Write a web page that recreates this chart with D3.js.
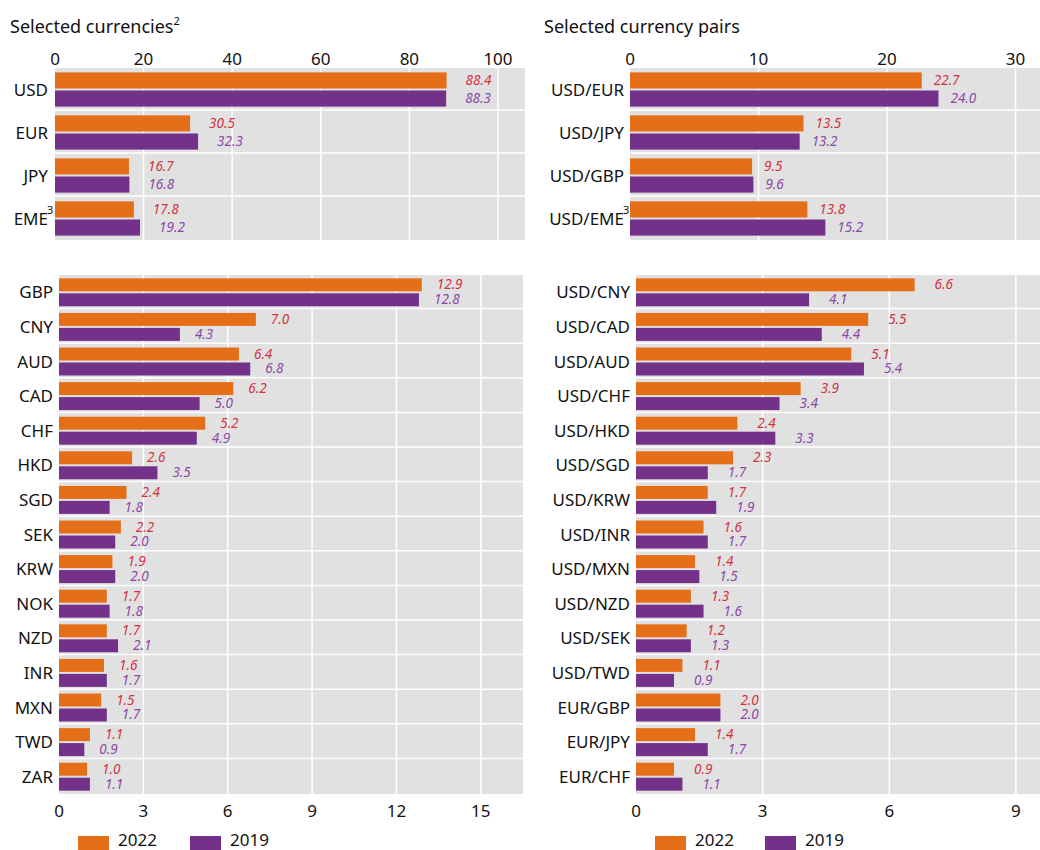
<!DOCTYPE html>
<html lang="en">
<head>
  <meta charset="UTF-8">
  <title>FX turnover by currency</title>
  <style>
    body { margin: 0; background: #fff; }
    svg { font-family: "Noto Sans", "Open Sans", sans-serif; }
    .tick-label { font-size: 17px; fill: #111; }
    .cat-label { font-size: 17px; fill: #111; }
    .val-label { font-size: 13.5px; font-style: italic; }
  </style>
</head>
<body>
  <div class="canvas"></div>
  <script src="https://d3js.org/d3.v7.min.js"></script>
  <script>
    // ---- data ----
    const currencies = ['USD', 'EUR', 'JPY', 'EME'];
    const currencies2022 = [88.4, 30.5, 16.7, 17.8];
    const currencies2019 = [88.3, 32.3, 16.8, 19.2];
    const currencyTicks = [0, 20, 40, 60, 80, 100];

    const pairs = ['USD/EUR', 'USD/JPY', 'USD/GBP', 'USD/EME'];
    const pairs2022 = [22.7, 13.5, 9.5, 13.8];
    const pairs2019 = [24.0, 13.2, 9.6, 15.2];
    const pairTicks = [0, 10, 20, 30];

    const otherCurrencies = ['GBP', 'CNY', 'AUD', 'CAD', 'CHF', 'HKD', 'SGD', 'SEK',
      'KRW', 'NOK', 'NZD', 'INR', 'MXN', 'TWD', 'ZAR'];
    const other2022 = [12.9, 7.0, 6.4, 6.2, 5.2, 2.6, 2.4, 2.2, 1.9, 1.7, 1.7, 1.6, 1.5, 1.1, 1.0];
    const other2019 = [12.8, 4.3, 6.8, 5.0, 4.9, 3.5, 1.8, 2.0, 2.0, 1.8, 2.1, 1.7, 1.7, 0.9, 1.1];
    const otherTicks = [0, 3, 6, 9, 12, 15];

    const otherPairs = ['USD/CNY', 'USD/CAD', 'USD/AUD', 'USD/CHF', 'USD/HKD', 'USD/SGD',
      'USD/KRW', 'USD/INR', 'USD/MXN', 'USD/NZD', 'USD/SEK', 'USD/TWD', 'EUR/GBP', 'EUR/JPY', 'EUR/CHF'];
    const otherPairs2022 = [6.6, 5.5, 5.1, 3.9, 2.4, 2.3, 1.7, 1.6, 1.4, 1.3, 1.2, 1.1, 2.0, 1.4, 0.9];
    const otherPairs2019 = [4.1, 4.4, 5.4, 3.4, 3.3, 1.7, 1.9, 1.7, 1.5, 1.6, 1.3, 0.9, 2.0, 1.7, 1.1];
    const otherPairTicks = [0, 3, 6, 9];

    const years = ['2022', '2019'];
    const footnotes = { 'EME': '3', 'USD/EME': '3' };

    const colors = { '2022': '#e46f18', '2019': '#733189' };
    const labelColors = { '2022': '#d2323f', '2019': '#8b47a6' };

    const width = 1040;
    const height = 850;

    const svg = d3.select('.canvas')
      .append('svg')
      .attr('width', width)
      .attr('height', height);

    function drawPanel(p) {
      const x = d3.scaleLinear().domain([0, p.max]).range([p.left, p.right]);
      const y = d3.scaleBand().domain(p.cats).range([p.top, p.bottom]);
      const bh = y.bandwidth() * 0.375;
      const gap = 2;
      const g = svg.append('g');

      g.append('rect')
        .attr('x', p.left).attr('y', p.top)
        .attr('width', p.right - p.left).attr('height', p.bottom - p.top)
        .attr('fill', '#e1e1e1');

      // vertical grid
      g.selectAll('line.vgrid')
        .data(p.ticks.filter(t => t > 0))
        .enter().append('line')
        .attr('x1', d => x(d)).attr('x2', d => x(d))
        .attr('y1', p.top).attr('y2', p.bottom)
        .attr('stroke', '#fff').attr('stroke-width', 1.5);

      // row separators
      g.selectAll('line.hgrid')
        .data(p.cats.slice(1))
        .enter().append('line')
        .attr('x1', p.left).attr('x2', p.right)
        .attr('y1', d => y(d) - 1).attr('y2', d => y(d) - 1)
        .attr('stroke', '#fff').attr('stroke-width', 1.5);

      const rows = p.cats.map((c, i) => ({ cat: c, v2022: p.v2022[i], v2019: p.v2019[i] }));
      const barY = (d, k) => y(d.cat) + (y.bandwidth() - 2 * bh - gap) / 2 + k * (bh + gap);

      years.forEach((yr, k) => {
        g.selectAll('rect.bar' + yr)
          .data(rows)
          .enter().append('rect')
          .attr('x', x(0))
          .attr('y', d => barY(d, k))
          .attr('width', d => x(d['v' + yr]) - x(0))
          .attr('height', bh)
          .attr('fill', colors[yr]);

        g.selectAll('text.val' + yr)
          .data(rows)
          .enter().append('text')
          .attr('class', 'val-label')
          .attr('x', d => x(d['v' + yr]) + p.valOffset)
          .attr('y', d => barY(d, k) + bh / 2 + 4.5)
          .attr('fill', labelColors[yr])
          .text(d => d['v' + yr].toFixed(1));
      });

      // category labels
      g.selectAll('text.cat')
        .data(p.cats)
        .enter().append('text')
        .attr('class', 'cat-label')
        .attr('x', p.left - p.catGap)
        .attr('y', d => y(d) + y.bandwidth() / 2 + 6)
        .attr('text-anchor', 'end')
        .text(d => d);

      g.selectAll('text.note')
        .data(p.cats.filter(c => footnotes[c]))
        .enter().append('text')
        .attr('x', p.left - p.catGap - 1)
        .attr('y', d => y(d) + y.bandwidth() / 2 - 5)
        .attr('font-size', 11)
        .attr('fill', '#111')
        .text(d => footnotes[d]);

      // tick labels
      g.selectAll('text.tick')
        .data(p.ticks)
        .enter().append('text')
        .attr('class', 'tick-label')
        .attr('x', d => x(d))
        .attr('y', p.tickY)
        .attr('text-anchor', 'middle')
        .text(d => d);
    }

    // titles
    const t1 = svg.append('text').attr('x', 10).attr('y', 33)
      .attr('font-size', 18).attr('fill', '#111').text('Selected currencies');
    t1.append('tspan').attr('font-size', 11).attr('dy', -8).text('2');
    svg.append('text').attr('x', 544).attr('y', 33)
      .attr('font-size', 18).attr('fill', '#111').text('Selected currency pairs');

    drawPanel({ cats: currencies, v2022: currencies2022, v2019: currencies2019, ticks: currencyTicks,
      max: 106.1, left: 55, right: 525, top: 68, bottom: 240, tickY: 65, valOffset: 19, catGap: 7 });
    drawPanel({ cats: pairs, v2022: pairs2022, v2019: pairs2019, ticks: pairTicks,
      max: 31.9, left: 630, right: 1040, top: 68, bottom: 240, tickY: 65, valOffset: 12, catGap: 6 });
    drawPanel({ cats: otherCurrencies, v2022: other2022, v2019: other2019, ticks: otherTicks,
      max: 16.5, left: 59, right: 523, top: 275, bottom: 794, tickY: 817, valOffset: 15, catGap: 6 });
    drawPanel({ cats: otherPairs, v2022: otherPairs2022, v2019: otherPairs2019, ticks: otherPairTicks,
      max: 9.57, left: 636, right: 1040, top: 275, bottom: 794, tickY: 817, valOffset: 20, catGap: 6 });

    // legends
    function drawLegend(x0, items) {
      const lg = svg.append('g');
      items.forEach(it => {
        lg.append('rect').attr('x', x0 + it.dx).attr('y', 836).attr('width', 31).attr('height', 14)
          .attr('fill', colors[it.yr]);
        lg.append('text').attr('x', x0 + it.dx + 40).attr('y', 846)
          .attr('font-size', 17).attr('fill', '#111').text(it.yr);
      });
    }
    drawLegend(78, [{ yr: '2022', dx: 0 }, { yr: '2019', dx: 112 }]);
    drawLegend(655, [{ yr: '2022', dx: 0 }, { yr: '2019', dx: 110 }]);
  </script>
</body>
</html>
